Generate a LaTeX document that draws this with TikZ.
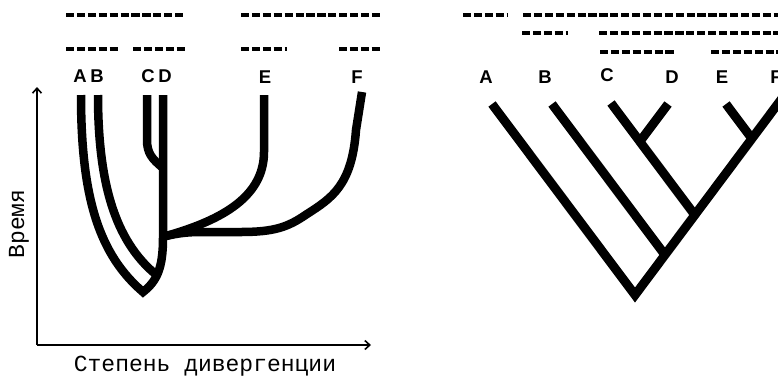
\documentclass[tikz,border=0pt]{standalone}
\usepackage{fontspec}
\setmainfont{Liberation Sans}
\newfontfamily\axisfont{Liberation Mono}
\usetikzlibrary{arrows.meta}
\begin{document}
\begin{tikzpicture}[x=1pt,y=-1pt,
  branch/.style={line width=8.5pt,line cap=butt,line join=miter},
  treeline/.style={line width=9pt,line cap=butt,line join=miter},
  group/.style={line width=4pt,dash pattern=on 8.2pt off 2.7pt},
  taxon/.style={font=\fontsize{18.5}{22}\selectfont\bfseries,inner sep=0pt},
  axislabel/.style={font=\axisfont\fontsize{23}{26}\selectfont,inner sep=0pt},
  axis/.style={line width=1.6pt,-{Straight Barb[length=5pt,width=9pt]}}]
\useasboundingbox (0,0) rectangle (778,376);

% ---------- left: branching over time ----------
% grouping bars
\draw[group] (66,15) -- (185,15);
\draw[group] (241,15) -- (382,15);
\draw[group] (66,49) -- (119,49);
\draw[group] (133,49) -- (185,49);
\draw[group] (241,49) -- (287,49);
\draw[group] (339,49) -- (382,49);

% taxon labels
\node[taxon] (la) at (80,76) {A};
\node[taxon] (lb) at (97,76) {B};
\node[taxon] (lc) at (148,76) {C};
\node[taxon] (ld) at (165,76) {D};
\node[taxon] (le) at (265,77) {E};
\node[taxon] (lf) at (357,77) {F};

% branch ends and junctions
\coordinate (ta) at (81,95);
\coordinate (tb) at (98,95);
\coordinate (tc) at (147,95);
\coordinate (td) at (163,95);
\coordinate (te) at (264,95);
\coordinate (tf) at (362,92);
\coordinate (origin) at (143,292);
\coordinate (jb) at (159,277);
\coordinate (jc) at (163,168);
\coordinate (je) at (166,236);

% lineages
\draw[branch] (ta) .. controls (81,200) and (100,255) .. (origin)
  .. controls (157,281) and (163,268) .. (163,238) -- (td);
\draw[branch] (tb) .. controls (98,190) and (118,245) .. (jb);
\draw[branch] (tc) -- (147,140) .. controls (147,153) and (152,159) .. (jc);
\draw[branch] (te) -- (264,152) .. controls (264,200) and (215,222) .. (je);
\draw[branch] (tf) -- (356,130) .. controls (352,185) and (332,198) .. (307,214)
  .. controls (288,227) and (275,232) .. (240,232) -- (200,232)
  .. controls (185,232) and (175,234) .. (je);

% axes
\coordinate (ax0) at (37,345);
\coordinate (axy) at (37,87);
\coordinate (axx) at (371,345);
\draw[axis] (ax0) -- (axy);
\draw[axis] (ax0) -- (axx);
\node[axislabel,rotate=90] (ylab) at (19,224) {Время};
\node[axislabel] (xlab) at (205,366) {Степень дивергенции};

% ---------- right: cladogram ----------
\draw[group] (463,15) -- (507,15);
\draw[group] (523,15) -- (782,15);
\draw[group] (522,33) -- (568,33);
\draw[group] (599,33) -- (782,33);
\draw[group] (600,52) -- (676,52);
\draw[group] (711,52) -- (782,52);

\node[taxon] (ra) at (486,77) {A};
\node[taxon] (rb) at (545,77) {B};
\node[taxon] (rc) at (607,75) {C};
\node[taxon] (rd) at (672,77) {D};
\node[taxon] (re) at (722,77) {E};
\node[taxon] (rf) at (776,77) {F};

\coordinate (root) at (635,295);
\coordinate (ua) at (492,104);
\coordinate (uf) at (783,97);
\coordinate (ub) at (552,104);
\coordinate (uc) at (611,103);
\coordinate (ud) at (668,104);
\coordinate (ue) at (726,104);
\coordinate (kb) at (intersection of ub--{[shift={(113,151)}]ub} and root--uf);
\coordinate (kc) at (intersection of uc--{[shift={(113,151)}]uc} and root--uf);
\coordinate (kd) at (intersection of ud--{[shift={(-113,151)}]ud} and uc--kc);
\coordinate (ke) at (intersection of ue--{[shift={(113,151)}]ue} and root--uf);

\draw[treeline] (ua) -- (root) -- (uf);
\draw[treeline] (ub) -- (kb);
\draw[treeline] (uc) -- (kc);
\draw[treeline] (ud) -- (kd);
\draw[treeline] (ue) -- (ke);
\end{tikzpicture}
\end{document}
